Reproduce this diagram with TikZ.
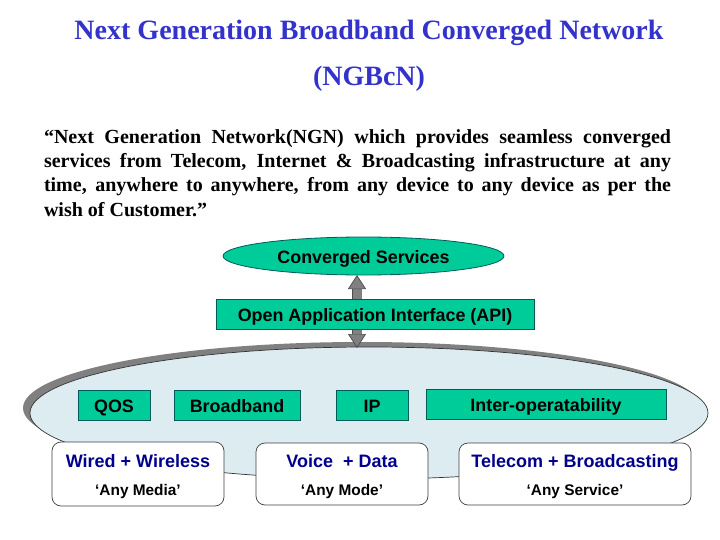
\documentclass[tikz,border=0pt]{standalone}
\usepackage{fontspec}
\setmainfont{Liberation Serif}
\setsansfont{Liberation Sans}
\usetikzlibrary{arrows.meta,shapes.geometric}
\definecolor{titleblue}{RGB}{51,51,204}
\definecolor{navy}{RGB}{0,0,140}
\definecolor{boxgreen}{RGB}{0,204,153}
\definecolor{boxedge}{RGB}{0,90,90}
\definecolor{hubblue}{RGB}{221,236,240}
\definecolor{shadowgray}{RGB}{128,128,128}
\tikzset{
  greenbox/.style = {draw = boxedge, fill = boxgreen, line width = 0.8pt, inner sep = 0pt, text height = 14pt, text depth = 0pt, font = \sffamily\bfseries\fontsize{17.9}{20}\selectfont},
  whitebox/.style = {draw = black!75, fill = white, line width = 0.7pt, rounded corners = 9pt, inner sep = 0pt, align = center, text height = 42pt, text depth = 0pt, font = \sffamily\bfseries\fontsize{15.4}{17}\selectfont},
  linkarrow/.style = {draw = black!70, line width = 0.7pt, double = shadowgray, double distance = 9pt,
    {Triangle[length = 14pt, width = 18pt, color = black!70, fill = shadowgray, line width = 0.7pt]}-{Triangle[length = 14pt, width = 18pt, color = black!70, fill = shadowgray, line width = 0.7pt]}}
}
\begin{document}
\begin{tikzpicture}[x = 1pt, y = -1pt]
\useasboundingbox (0,0) rectangle (720,540);
\node[font = \bfseries\fontsize{28}{46}\selectfont, text = titleblue, align = center] (title) at (369,55.5) {Next Generation Broadband Converged Network\\(NGBcN)};
\node[font = \bfseries\fontsize{20}{24.4}\selectfont, text width = 627pt, inner sep = 0pt, align = justify] (quote) at (357.5,173) {``Next Generation Network(NGN) which provides seamless converged\linebreak services from Telecom, Internet \& Broadcasting infrastructure at any\linebreak time, anywhere to anywhere, from any device to any device as per the\linebreak wish of Customer.''};
\node[ellipse, fill = shadowgray, minimum width = 678pt, minimum height = 132pt, inner sep = 0pt] (hubshadow) at (362,408) {};
\node[ellipse, draw = black!80, fill = hubblue, line width = 0.7pt, minimum width = 678pt, minimum height = 132pt, inner sep = 0pt] (hub) at (369,413) {};
\coordinate (linktop) at (357,275);
\coordinate (linkbottom) at (357,348);
\draw[linkarrow] (linktop) -- (linkbottom);
\node[ellipse, greenbox, minimum width = 281pt, minimum height = 38pt] (services) at (363.5,256) {Converged Services};
\node[greenbox, minimum width = 318pt, minimum height = 30pt] (api) at (375,314) {Open Application Interface (API)};
\foreach \name/\cx/\cy/\boxw/\txt in {qos/114/405/72/QOS, broadband/237/405/126/Broadband, ip/372/405/72/IP, interop/546/404/240/Inter-operatability}
  \node[greenbox, minimum width = \boxw pt, minimum height = 30pt] (\name) at (\cx,\cy) {\txt};
\foreach \name/\cx/\cy/\boxw/\boxh/\headtxt/\subtxt in {media/138/474/172/64/Wired + Wireless/`Any Media', mode/342/474/172/62/Voice\ \ + Data/`Any Mode', service/575/474/232/62/Telecom + Broadcasting/`Any Service'}
  \node[whitebox, minimum width = \boxw pt, minimum height = \boxh pt] (\name) at (\cx,\cy) {\textcolor{navy}{\fontsize{18}{20}\selectfont \headtxt}\\[11pt]\subtxt};
\end{tikzpicture}
\end{document}
